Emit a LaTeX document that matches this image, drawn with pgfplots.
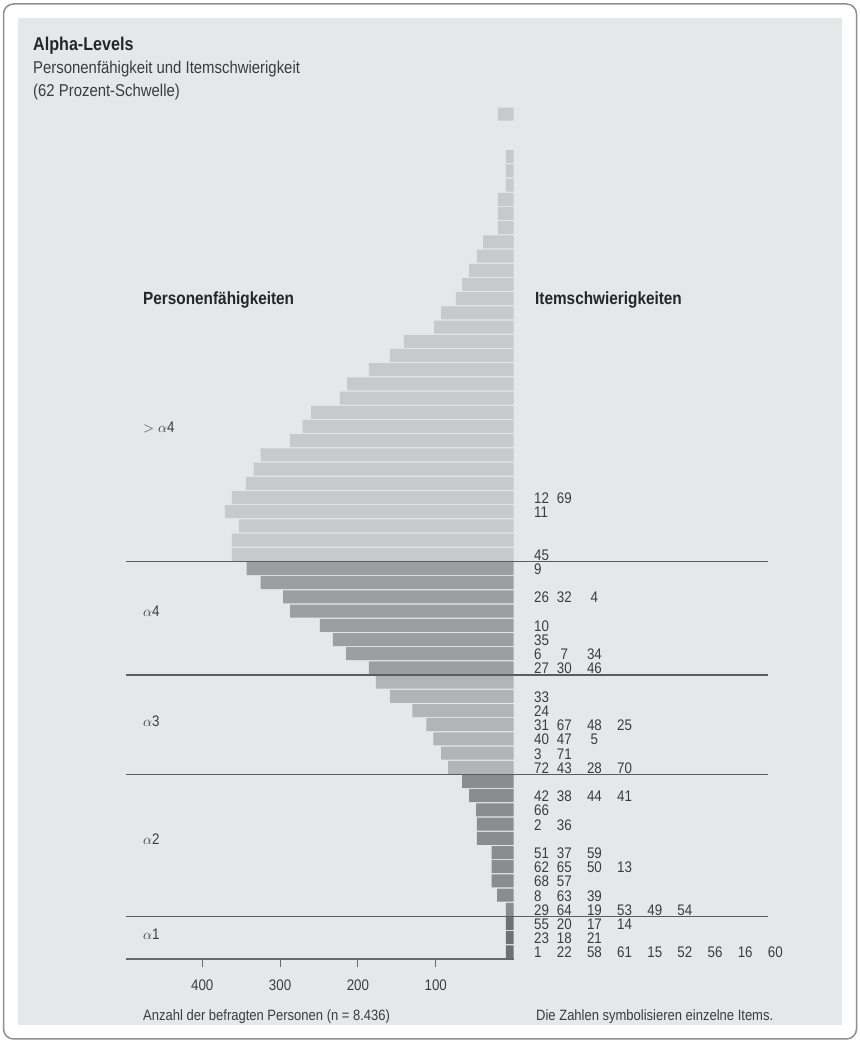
\documentclass[border=0pt]{standalone}
\usepackage{pgfplots}
\pgfplotsset{compat=1.18}
\usepackage{fontspec}
\setmainfont{Liberation Sans}[FakeStretch=0.87]

\definecolor{bg}{HTML}{E6E7E9}
\definecolor{frame}{HTML}{8F8F8F}
\definecolor{barlight}{HTML}{C8C9CB}
\definecolor{barfour}{HTML}{9D9EA0}
\definecolor{barthree}{HTML}{B3B4B6}
\definecolor{bartwo}{HTML}{8B8C8E}
\definecolor{barone}{HTML}{6F7072}
\definecolor{sepline}{HTML}{5C5C5C}
\definecolor{axisgray}{HTML}{6A6A6A}
\definecolor{txt}{HTML}{3C3C3C}
\definecolor{titletxt}{HTML}{262626}

\newcommand\itemfont{\fontsize{15.4}{16}\selectfont}
\newcommand\capfont{\fontsize{15}{16}\selectfont}
\newcommand\titlefont{\fontsize{17.2}{20}\selectfont}
\newcommand\headfont{\fontsize{17.7}{20}\selectfont\bfseries}

% item numbers of one row, first column left aligned, the rest centred
\newcommand\itemrow[2]{%
  \foreach \v [count=\k] in {#2}{%
    \ifnum\k=1
      \node[lab, anchor=base west] at (534,{922.9-14.2*#1}) {\v};
    \else
      \node[lab, anchor=base] at ({564.3+30.15*(\k-2)},{922.9-14.2*#1}) {\v};
    \fi}}

\begin{document}
\begin{tikzpicture}[x=1bp, y=1bp,
  lab/.style={inner sep=0pt, text=txt, font=\itemfont}]

\fill[white] (0,0) rectangle (860,1043);
\draw[frame, line width=1.5bp, rounded corners=10bp] (3.5,4) rectangle (856.5,1039);
\fill[bg] (18,18) rectangle (842,1025);
\coordinate (axSW) at (126,84);

\begin{axis}[
  at={(axSW)}, anchor=south west,
  scale only axis, width=642bp, height=852bp,
  xmin=-327, xmax=498, x dir=reverse,
  ymin=-0.5, ymax=59.5, y dir=reverse,
  bar width=13bp,
  axis line style={draw=none},
  ytick=\empty,
  xtick={100,200,300,400}, xtick pos=left, xtick align=outside,
  major tick length=8bp,
  tick style={draw=axisgray, line width=1.1bp},
  xticklabel style={font=\itemfont, text=txt, inner sep=0pt, anchor=base, yshift=-23.2bp},
  /pgf/number format/assume math mode=true,
  clip=false,
]
% > alpha 4
\addplot[xbar, bar shift=0pt, fill=barlight, draw=none] coordinates {
  (20,0) (10,3) (10,4) (10,5) (20,6) (20,7) (20,8) (39,9) (47,10) (57,11)
  (66,12) (74,13) (93,14) (102,15) (141,16) (159,17) (186,18) (214,19)
  (223,20) (260,21) (271,22) (287,23) (325,24) (334,25) (344,26) (362,27)
  (371,28) (353,29) (362,30) (362,31)
};
% alpha 4
\addplot[xbar, bar shift=0pt, fill=barfour, draw=none] coordinates {
  (343,32) (325,33) (296,34) (287,35) (249,36) (232,37) (215,38) (186,39)
};
% alpha 3
\addplot[xbar, bar shift=0pt, fill=barthree, draw=none] coordinates {
  (177,40) (159,41) (130,42) (112,43) (103,44) (93,45) (84,46)
};
% alpha 2
\addplot[xbar, bar shift=0pt, fill=bartwo, draw=none] coordinates {
  (66,47) (57,48) (48,49) (47,50) (47,51) (28,52) (28,53) (28,54) (21,55) (10,56)
};
% alpha 1
\addplot[xbar, bar shift=0pt, fill=barone, draw=none] coordinates {
  (10,57) (10,58) (10,59)
};
% level thresholds
\addplot[sepline, line width=1.3bp] coordinates {(498,31.5) (-327,31.5)};
\addplot[sepline, line width=1.3bp] coordinates {(498,39.5) (-327,39.5)};
\addplot[sepline, line width=1.3bp] coordinates {(498,46.5) (-327,46.5)};
\addplot[sepline, line width=1.3bp] coordinates {(498,56.5) (-327,56.5)};
% base line
\addplot[axisgray, line width=1.5bp] coordinates {(498,59.5) (0,59.5)};
\end{axis}

% titles
\node[anchor=base west, inner sep=0pt, text=titletxt, font=\fontsize{18.6}{20}\selectfont\bfseries] at (33,992.3) {Alpha-Levels};
\node[anchor=base west, inner sep=0pt, text=txt, font=\titlefont] at (33,969) {Personenfähigkeit und Itemschwierigkeit};
\node[anchor=base west, inner sep=0pt, text=txt, font=\titlefont] at (33,946) {(62 Prozent-Schwelle)};

\node[anchor=base west, inner sep=0pt, text=titletxt, font=\headfont] at (143,738.3) {Personenfähigkeiten};
\node[anchor=base west, inner sep=0pt, text=titletxt, font=\headfont] at (535,738.3) {Itemschwierigkeiten};

% level names
\node[lab, anchor=base west] at (143,610) {$>\alpha$4};
\node[lab, anchor=base west] at (143,426) {$\alpha$4};
\node[lab, anchor=base west] at (143,316) {$\alpha$3};
\node[lab, anchor=base west] at (143,198) {$\alpha$2};
\node[lab, anchor=base west] at (143,103) {$\alpha$1};

% item numbers
\itemrow{27}{12,69}
\itemrow{28}{11}
\itemrow{31}{45}
\itemrow{32}{9}
\itemrow{34}{26,32,4}
\itemrow{36}{10}
\itemrow{37}{35}
\itemrow{38}{6,7,34}
\itemrow{39}{27,30,46}
\itemrow{41}{33}
\itemrow{42}{24}
\itemrow{43}{31,67,48,25}
\itemrow{44}{40,47,5}
\itemrow{45}{3,71}
\itemrow{46}{72,43,28,70}
\itemrow{48}{42,38,44,41}
\itemrow{49}{66}
\itemrow{50}{2,36}
\itemrow{52}{51,37,59}
\itemrow{53}{62,65,50,13}
\itemrow{54}{68,57}
\itemrow{55}{8,63,39}
\itemrow{56}{29,64,19,53,49,54}
\itemrow{57}{55,20,17,14}
\itemrow{58}{23,18,21}
\itemrow{59}{1,22,58,61,15,52,56,16,60}

% captions
\node[anchor=base west, inner sep=0pt, text=txt, font=\capfont] at (143,22) {Anzahl der befragten Personen (n = 8.436)};
\node[anchor=base west, inner sep=0pt, text=txt, font=\capfont] at (536,22) {Die Zahlen symbolisieren einzelne Items.};
\end{tikzpicture}
\end{document}
